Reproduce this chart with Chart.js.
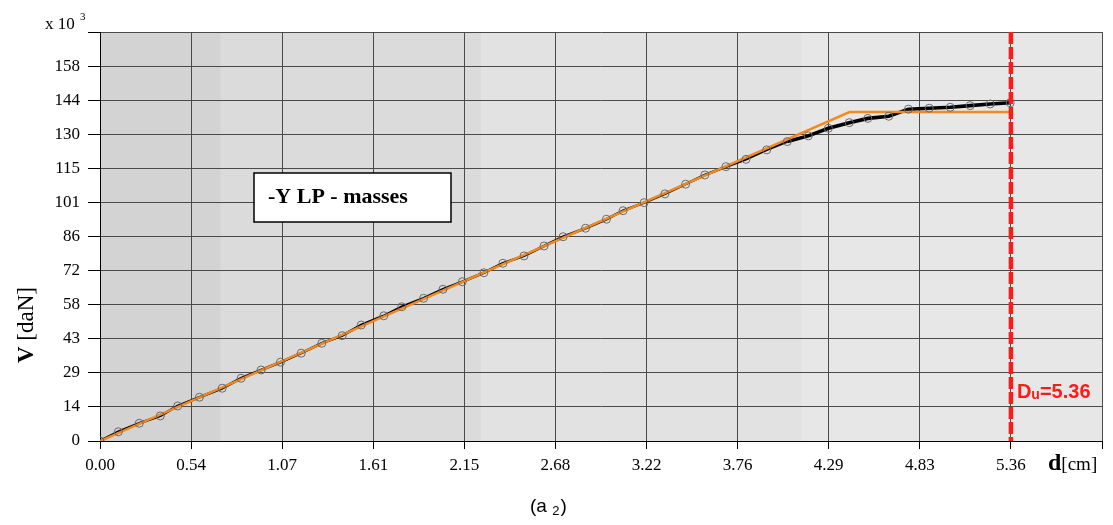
<!DOCTYPE html>
<html>
<head>
<meta charset="utf-8">
<script src="https://cdn.jsdelivr.net/npm/chart.js@4.4.1/dist/chart.umd.min.js"></script>
<style>
  html, body { margin: 0; padding: 0; background: #fff; }
  #wrap { width: 1113px; height: 525px; }
</style>
</head>
<body>
<div id="wrap"><canvas id="shearChart"></canvas></div>
<script>
// displacement d [cm] and base shear V [x10^3 daN]
var dispX = [0.000, 0.108, 0.231, 0.355, 0.457, 0.585, 0.719, 0.830, 0.948, 1.062,
             1.184, 1.305, 1.425, 1.537, 1.670, 1.776, 1.904, 2.018, 2.132, 2.259,
             2.371, 2.495, 2.613, 2.725, 2.857, 2.980, 3.078, 3.202, 3.324, 3.446,
             3.559, 3.683, 3.801, 3.923, 4.044, 4.168, 4.286, 4.409, 4.518, 4.641,
             4.757, 4.879, 5.003, 5.120, 5.238, 5.356];
var shearV = [0.0, 3.9, 7.5, 10.6, 14.8, 18.5, 22.3, 26.5, 30.0, 33.3,
              37.1, 41.3, 44.5, 49.0, 52.9, 56.7, 60.3, 64.1, 67.3, 71.1,
              75.1, 78.2, 82.4, 86.3, 89.9, 93.7, 97.3, 100.7, 104.4, 108.5,
              112.4, 115.9, 119.0, 123.0, 126.5, 128.9, 132.1, 134.5, 136.3, 137.2,
              140.2, 140.6, 141.0, 141.7, 142.4, 142.9];

// idealised bilinear curve
var bilinX = [0, 4.41, 5.36];
var bilinV = [0, 139.0, 139.0];

var duValue = 5.36;

var xTicks = [0, 0.536, 1.072, 1.608, 2.144, 2.68, 3.216, 3.752, 4.288, 4.824, 5.36, 5.896];
var xTickLabels = ['0.00', '0.54', '1.07', '1.61', '2.15', '2.68', '3.22', '3.76', '4.29', '4.83', '5.36', ''];
var yTicks = [0, 14.4, 28.8, 43.2, 57.6, 72, 86.4, 100.8, 115.2, 129.6, 144, 158.4, 172.8];
var yTickLabels = ['0', '14', '29', '43', '58', '72', '86', '101', '115', '130', '144', '158', ''];

var serif = '"Liberation Serif", "DejaVu Serif", serif';
var sans = '"Liberation Sans", Arial, sans-serif';

function toPoints(xs, ys) {
    return xs.map(function (x, i) { return { x: x, y: ys[i] }; });
}

// shaded plot background, darker on the left
var bgPlugin = {
    id: 'bgPlugin',
    beforeDraw: function (chart) {
        var a = chart.chartArea, ctx = chart.ctx, w = a.right - a.left;
        var bands = [[0, 0.12, '#d3d3d3'], [0.12, 0.38, '#dbdbdb'], [0.38, 0.7, '#e2e2e2'], [0.7, 1, '#e7e7e7']];
        ctx.save();
        bands.forEach(function (b) {
            ctx.fillStyle = b[2];
            ctx.fillRect(a.left + w * b[0], a.top, w * (b[1] - b[0]) + 1, a.bottom - a.top);
        });
        ctx.restore();
    }
};

// Du marker line and note box
var overlayPlugin = {
    id: 'overlayPlugin',
    afterDatasetsDraw: function (chart) {
        var ctx = chart.ctx, a = chart.chartArea;
        var xs = chart.scales.x;
        var px = xs.getPixelForValue(duValue);
        ctx.save();
        ctx.strokeStyle = '#ff1a1a';
        ctx.lineWidth = 4.5;
        ctx.setLineDash([12, 3]);
        ctx.beginPath();
        ctx.moveTo(px, a.top);
        ctx.lineTo(px, a.bottom);
        ctx.stroke();
        ctx.setLineDash([]);

        // Du label
        ctx.fillStyle = '#ff1a1a';
        ctx.textBaseline = 'alphabetic';
        ctx.textAlign = 'left';
        ctx.font = 'bold 20px ' + sans;
        var tx = px + 6, ty = 398;
        ctx.fillText('D', tx, ty);
        tx += ctx.measureText('D').width;
        ctx.font = 'bold 14px ' + sans;
        ctx.fillText('u', tx, ty + 1);
        tx += ctx.measureText('u').width;
        ctx.font = 'bold 20px ' + sans;
        ctx.fillText('=5.36', tx, ty);

        // note box
        ctx.fillStyle = '#fff';
        ctx.fillRect(a.left + 154, 173, 197, 49);
        ctx.strokeStyle = '#000';
        ctx.lineWidth = 1.5;
        ctx.strokeRect(a.left + 154, 173, 197, 49);
        ctx.fillStyle = '#000';
        ctx.font = 'bold 22px ' + serif;
        ctx.textBaseline = 'middle';
        ctx.fillText('-Y LP - masses', a.left + 168, 197);
        ctx.restore();
    },
    afterDraw: function (chart) {
        var ctx = chart.ctx;
        ctx.save();
        ctx.fillStyle = '#000';
        ctx.textBaseline = 'alphabetic';

        // multiplier
        ctx.font = '17px ' + serif;
        ctx.textAlign = 'left';
        ctx.fillText('x 10', 45, 29);
        ctx.font = '11px ' + serif;
        ctx.fillText('3', 80, 20);

        // y title
        ctx.save();
        ctx.translate(33, 325);
        ctx.rotate(-Math.PI / 2);
        ctx.font = 'bold 23px ' + serif;
        var w1 = ctx.measureText('V ').width;
        ctx.font = '23px ' + serif;
        var w2 = ctx.measureText('[daN]').width;
        var sx = -(w1 + w2) / 2;
        ctx.font = 'bold 23px ' + serif;
        ctx.fillText('V ', sx, 0);
        ctx.font = '23px ' + serif;
        ctx.fillText('[daN]', sx + w1, 0);
        ctx.restore();

        // x title
        ctx.font = 'bold 24px ' + serif;
        ctx.fillText('d', 1048, 470);
        var dw = ctx.measureText('d').width;
        ctx.font = '19px ' + serif;
        ctx.fillText('[cm]', 1048 + dw, 470);

        // panel tag
        ctx.font = '19px ' + sans;
        ctx.fillText('(a', 530, 512);
        var aw = ctx.measureText('(a ').width;
        ctx.font = '13px ' + sans;
        ctx.fillText('2', 530 + aw, 515);
        var nw = ctx.measureText('2').width;
        ctx.font = '19px ' + sans;
        ctx.fillText(')', 530 + aw + nw + 1, 512);
        ctx.restore();
    }
};

var ctx = document.getElementById('shearChart').getContext('2d');
var shearChart = new Chart(ctx, {
    type: 'scatter',
    data: {
        datasets: [
            {
                label: 'markers',
                data: toPoints(dispX, shearV),
                showLine: false,
                pointStyle: 'circle',
                pointRadius: 4,
                pointBorderWidth: 1,
                pointBorderColor: '#6a6a6a',
                pointBackgroundColor: 'rgba(0,0,0,0)',
                order: 0
            },
            {
                label: 'bilinear',
                data: toPoints(bilinX, bilinV),
                showLine: true,
                borderColor: '#f38a1f',
                borderWidth: 2.5,
                pointRadius: 0,
                tension: 0,
                order: 1
            },
            {
                label: 'capacity',
                data: toPoints(dispX, shearV),
                showLine: true,
                borderColor: '#000',
                borderWidth: 2.8,
                pointRadius: 0,
                tension: 0,
                segment: {
                    borderWidth: function (c) { return c.p0.parsed.x > 4.0 ? 3.6 : 2.6; }
                },
                order: 2
            }
        ]
    },
    options: {
        responsive: true,
        maintainAspectRatio: false,
        animation: false,
        layout: { padding: { left: 0, right: 11, top: 32, bottom: 54 } },
        plugins: {
            legend: { display: false },
            tooltip: { enabled: false }
        },
        scales: {
            x: {
                type: 'linear',
                min: 0,
                max: 5.896,
                afterBuildTicks: function (s) { s.ticks = xTicks.map(function (v) { return { value: v }; }); },
                afterFit: function (s) { s.height = 30; },
                ticks: {
                    autoSkip: false,
                    maxRotation: 0,
                    padding: 6,
                    color: '#000',
                    font: { family: serif, size: 17 },
                    callback: function (v, i) { return xTickLabels[i]; }
                },
                grid: { color: '#4a4a4a', lineWidth: 1, tickLength: 8, tickColor: '#000' },
                border: { color: '#000', width: 1 }
            },
            y: {
                type: 'linear',
                min: 0,
                max: 172.8,
                afterBuildTicks: function (s) { s.ticks = yTicks.map(function (v) { return { value: v }; }); },
                afterFit: function (s) { s.width = 100; },
                ticks: {
                    autoSkip: false,
                    padding: 8,
                    color: '#000',
                    font: { family: serif, size: 17 },
                    callback: function (v, i) { return yTickLabels[i]; }
                },
                grid: { color: '#4a4a4a', lineWidth: 1, tickLength: 12, tickColor: '#000' },
                border: { color: '#000', width: 1 }
            }
        }
    },
    plugins: [bgPlugin, overlayPlugin]
});
</script>
</body>
</html>
